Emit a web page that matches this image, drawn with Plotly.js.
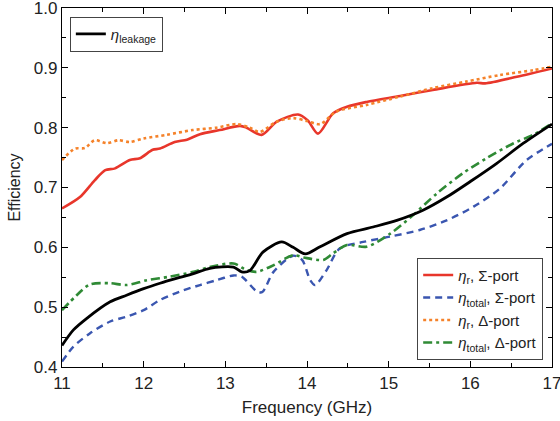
<!DOCTYPE html>
<html>
<head>
<meta charset="utf-8">
<script src="https://cdn.plot.ly/plotly-3.0.1.min.js"></script>
<style>html,body{margin:0;padding:0;background:#fff;}#chart{width:560px;height:421px;}</style>
</head>
<body>
<div id="chart"></div>
<script>
// Frequency (GHz) and efficiencies
const redX = [11.0, 11.22, 11.4, 11.53, 11.65, 11.83, 11.955, 12.11, 12.2, 12.38, 12.53, 12.69, 12.93, 13.18, 13.26, 13.445, 13.63, 13.89, 14.01, 14.135, 14.32, 14.49, 14.73, 15.14, 15.54, 16.08, 16.18, 16.57, 17.0];
const redY = [0.665, 0.684, 0.712, 0.729, 0.732, 0.746, 0.749, 0.763, 0.765, 0.776, 0.780, 0.789, 0.796, 0.803, 0.800, 0.788, 0.810, 0.822, 0.812, 0.790, 0.824, 0.835, 0.843, 0.853, 0.863, 0.875, 0.874, 0.885, 0.899];

const orangeX = [11.0, 11.16, 11.28, 11.40, 11.55, 11.69, 11.83, 12.0, 12.28, 12.6, 12.89, 13.14, 13.30, 13.42, 13.63, 13.83, 14.0, 14.16, 14.36, 14.73, 15.14, 15.54, 15.95, 16.36, 16.77, 17.0];
const orangeY = [0.746, 0.765, 0.766, 0.779, 0.774, 0.779, 0.776, 0.782, 0.788, 0.796, 0.800, 0.806, 0.800, 0.793, 0.810, 0.816, 0.811, 0.806, 0.827, 0.838, 0.852, 0.866, 0.877, 0.888, 0.896, 0.902];

const blackX = [11.0, 11.14, 11.30, 11.59, 11.79, 12.0, 12.2, 12.40, 12.61, 12.81, 13.10, 13.2, 13.30, 13.46, 13.69, 13.83, 13.98, 14.16, 14.49, 14.81, 15.10, 15.42, 15.71, 16.0, 16.32, 16.65, 17.0];
const blackY = [0.436, 0.462, 0.481, 0.509, 0.520, 0.531, 0.540, 0.548, 0.556, 0.565, 0.567, 0.559, 0.561, 0.592, 0.609, 0.600, 0.589, 0.601, 0.623, 0.634, 0.645, 0.662, 0.684, 0.710, 0.740, 0.774, 0.806];

const blueX = [11.0, 11.14, 11.34, 11.59, 11.79, 12.0, 12.2, 12.44, 12.69, 12.89, 13.1, 13.2, 13.38, 13.45, 13.59, 13.83, 13.94, 14.04, 14.10, 14.24, 14.40, 14.69, 15.02, 15.38, 15.71, 16.04, 16.36, 16.69, 17.0];
const blueY = [0.409, 0.434, 0.456, 0.476, 0.484, 0.495, 0.512, 0.526, 0.537, 0.545, 0.553, 0.551, 0.527, 0.525, 0.559, 0.586, 0.579, 0.545, 0.537, 0.562, 0.598, 0.609, 0.618, 0.629, 0.645, 0.668, 0.698, 0.746, 0.773];

const greenX = [11.0, 11.18, 11.34, 11.59, 11.79, 12.04, 12.32, 12.61, 12.81, 13.1, 13.26, 13.38, 13.59, 13.83, 13.96, 14.2, 14.32, 14.49, 14.73, 15.02, 15.30, 15.59, 15.91, 16.2, 16.53, 16.77, 17.0];
const greenY = [0.495, 0.520, 0.538, 0.540, 0.537, 0.545, 0.551, 0.559, 0.567, 0.573, 0.562, 0.559, 0.570, 0.587, 0.583, 0.579, 0.590, 0.604, 0.601, 0.623, 0.654, 0.690, 0.724, 0.749, 0.774, 0.788, 0.807];

const xTicks = [11, 12, 13, 14, 15, 16, 17];
const yTicks = [0.4, 0.5, 0.6, 0.7, 0.8, 0.9, 1.0];
const yTickText = ['0.4', '0.5', '0.6', '0.7', '0.8', '0.9', '1.0'];

const traces = [
  {x: redX, y: redY, name: '<i>η</i><sub>r</sub>, Σ-port', mode: 'lines', line: {color: '#e8362b', width: 2.6, shape: 'spline', smoothing: 0.8}, legend: 'legend2'},
  {x: blueX, y: blueY, name: '<i>η</i><sub>total</sub>, Σ-port', mode: 'lines', line: {color: '#3a56b0', width: 2.4, dash: '7px,5px', shape: 'spline', smoothing: 0.8}, legend: 'legend2'},
  {x: orangeX, y: orangeY, name: '<i>η</i><sub>r</sub>, Δ-port', mode: 'lines', line: {color: '#f5822a', width: 2.6, dash: 'dot', shape: 'spline', smoothing: 0.8}, legend: 'legend2'},
  {x: greenX, y: greenY, name: '<i>η</i><sub>total</sub>, Δ-port', mode: 'lines', line: {color: '#2f8a35', width: 2.6, dash: '9px,4px,3px,4px', shape: 'spline', smoothing: 0.8}, legend: 'legend2'},
  {x: blackX, y: blackY, name: '<i>η</i><sub>leakage</sub>', mode: 'lines', line: {color: '#000000', width: 2.8, shape: 'spline', smoothing: 0.8}, legend: 'legend'}
];

const axisCommon = {
  showline: true, linecolor: '#000', linewidth: 1.2, mirror: 'ticks',
  ticks: 'inside', ticklen: 6, tickwidth: 1, tickcolor: '#000',
  showgrid: false, zeroline: false, ticklabeloverflow: 'allow',
  tickfont: {family: 'Liberation Sans, Arial, sans-serif', size: 17, color: '#222'}
};

const layout = {
  width: 560, height: 421,
  margin: {l: 62, r: 8, t: 8, b: 54},
  paper_bgcolor: '#fff', plot_bgcolor: '#fff',
  font: {family: 'Liberation Sans, Arial, sans-serif', color: '#222'},
  xaxis: Object.assign({}, axisCommon, {
    range: [10.9999, 17.0001], tickvals: xTicks, ticktext: xTicks.map(String),
    minor: {tickvals: [11.5, 12.5, 13.5, 14.5, 15.5, 16.5], ticks: 'inside', ticklen: 4, tickcolor: '#000'},
    title: {text: 'Frequency (GHz)', font: {size: 17, color: '#222'}, standoff: 9}
  }),
  yaxis: Object.assign({}, axisCommon, {
    range: [0.39999, 1.00001], tickvals: yTicks, ticktext: yTickText,
    minor: {tickvals: [0.45, 0.55, 0.65, 0.75, 0.85, 0.95], ticks: 'inside', ticklen: 4, tickcolor: '#000'},
    title: {text: 'Efficiency', font: {size: 16, color: '#222'}, standoff: 9}
  }),
  legend: {
    x: 0.016, y: 0.976, xanchor: 'left', yanchor: 'top',
    bordercolor: '#444', borderwidth: 1, bgcolor: '#fff',
    font: {size: 15, color: '#222'}, itemwidth: 30
  },
  legend2: {
    x: 0.982, y: 0.02, xanchor: 'right', yanchor: 'bottom',
    bordercolor: '#444', borderwidth: 1, bgcolor: '#fff',
    font: {size: 15, color: '#222'}, itemwidth: 30, tracegroupgap: 0
  },
  showlegend: true
};

Plotly.newPlot('chart', traces, layout, {displayModeBar: false, staticPlot: true});
</script>
</body>
</html>
